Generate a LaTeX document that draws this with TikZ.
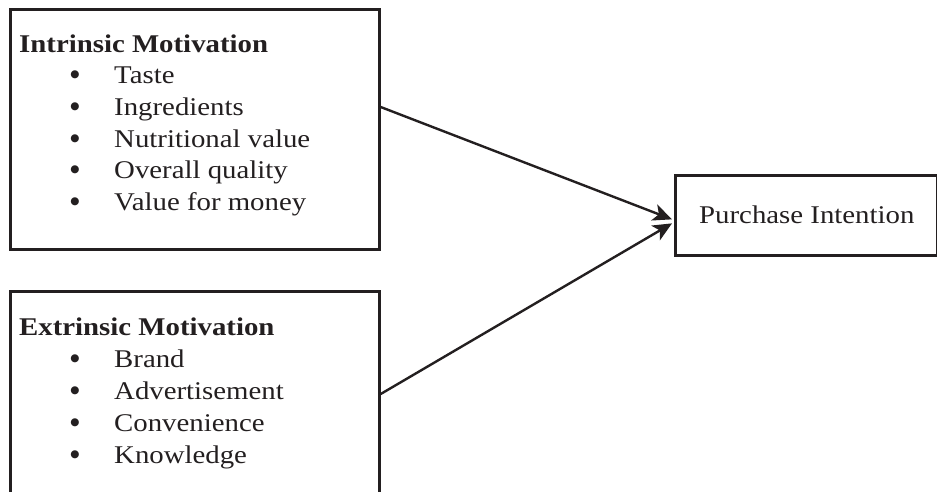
\documentclass[tikz,border=0pt]{standalone}
\usepackage{fontspec}
\setmainfont{Liberation Serif}[FakeStretch=1.13]
\newfontfamily\bulfont{DejaVu Sans}
\usetikzlibrary{arrows.meta}
\definecolor{ink}{HTML}{231F20}
\tikzset{
  boxline/.style={draw=ink, line width=2.7pt},
  txt/.style={anchor=base west, inner sep=0pt, text=ink, font=\fontsize{25.5}{30}\selectfont},
  hdr/.style={txt, font=\fontsize{25.5}{30}\selectfont\bfseries},
  bul/.style={anchor=center, inner sep=0pt, text=ink, font=\bulfont\fontsize{10.5}{12}\selectfont},
  arr/.style={draw=ink, line width=2.4pt, -{Stealth[length=19pt,width=17pt,inset=5pt]}}
}
\begin{document}
\begin{tikzpicture}[x=1pt,y=-1pt]
\useasboundingbox (0,0) rectangle (937,491);
\clip (0,0) rectangle (937,491);
% boxes
\node[boxline, minimum width=369pt, minimum height=240pt, inner sep=0pt, anchor=north west] (intr) at (9,8) {};
\node[boxline, minimum width=369pt, minimum height=240pt, inner sep=0pt, anchor=north west] (extr) at (9,290) {};
\node[boxline, minimum width=262pt, minimum height=80pt, inner sep=0pt, anchor=north west] (pi) at (674,174) {};
\node[txt] (pitxt) at (699,223) {Purchase Intention};
% intrinsic
\node[hdr] (ih) at (19,52) {Intrinsic Motivation};
\node[bul] (ib1) at (75,75) {●};
\node[txt] (i1) at (114,83) {Taste};
\node[bul] (ib2) at (75,107) {●};
\node[txt] (i2) at (114,115) {Ingredients};
\node[bul] (ib3) at (75,139) {●};
\node[txt] (i3) at (114,147) {Nutritional value};
\node[bul] (ib4) at (75,170) {●};
\node[txt] (i4) at (114,178) {Overall quality};
\node[bul] (ib5) at (75,202) {●};
\node[txt] (i5) at (114,210) {Value for money};
% extrinsic
\node[hdr] (eh) at (19,335) {Extrinsic Motivation};
\node[bul] (eb1) at (75,359) {●};
\node[txt] (e1) at (114,367) {Brand};
\node[bul] (eb2) at (75,391) {●};
\node[txt] (e2) at (114,399) {Advertisement};
\node[bul] (eb3) at (75,423) {●};
\node[txt] (e3) at (114,431) {Convenience};
\node[bul] (eb4) at (75,455) {●};
\node[txt] (e4) at (114,463) {Knowledge};
% arrows
\draw[arr] ([yshift=-99pt]intr.north east) -- ([xshift=-2pt,yshift=-4pt]pi.west);
\draw[arr] ([yshift=-104pt]extr.north east) -- ([xshift=-2pt,yshift=-8pt]pi.west);
\end{tikzpicture}
\end{document}
